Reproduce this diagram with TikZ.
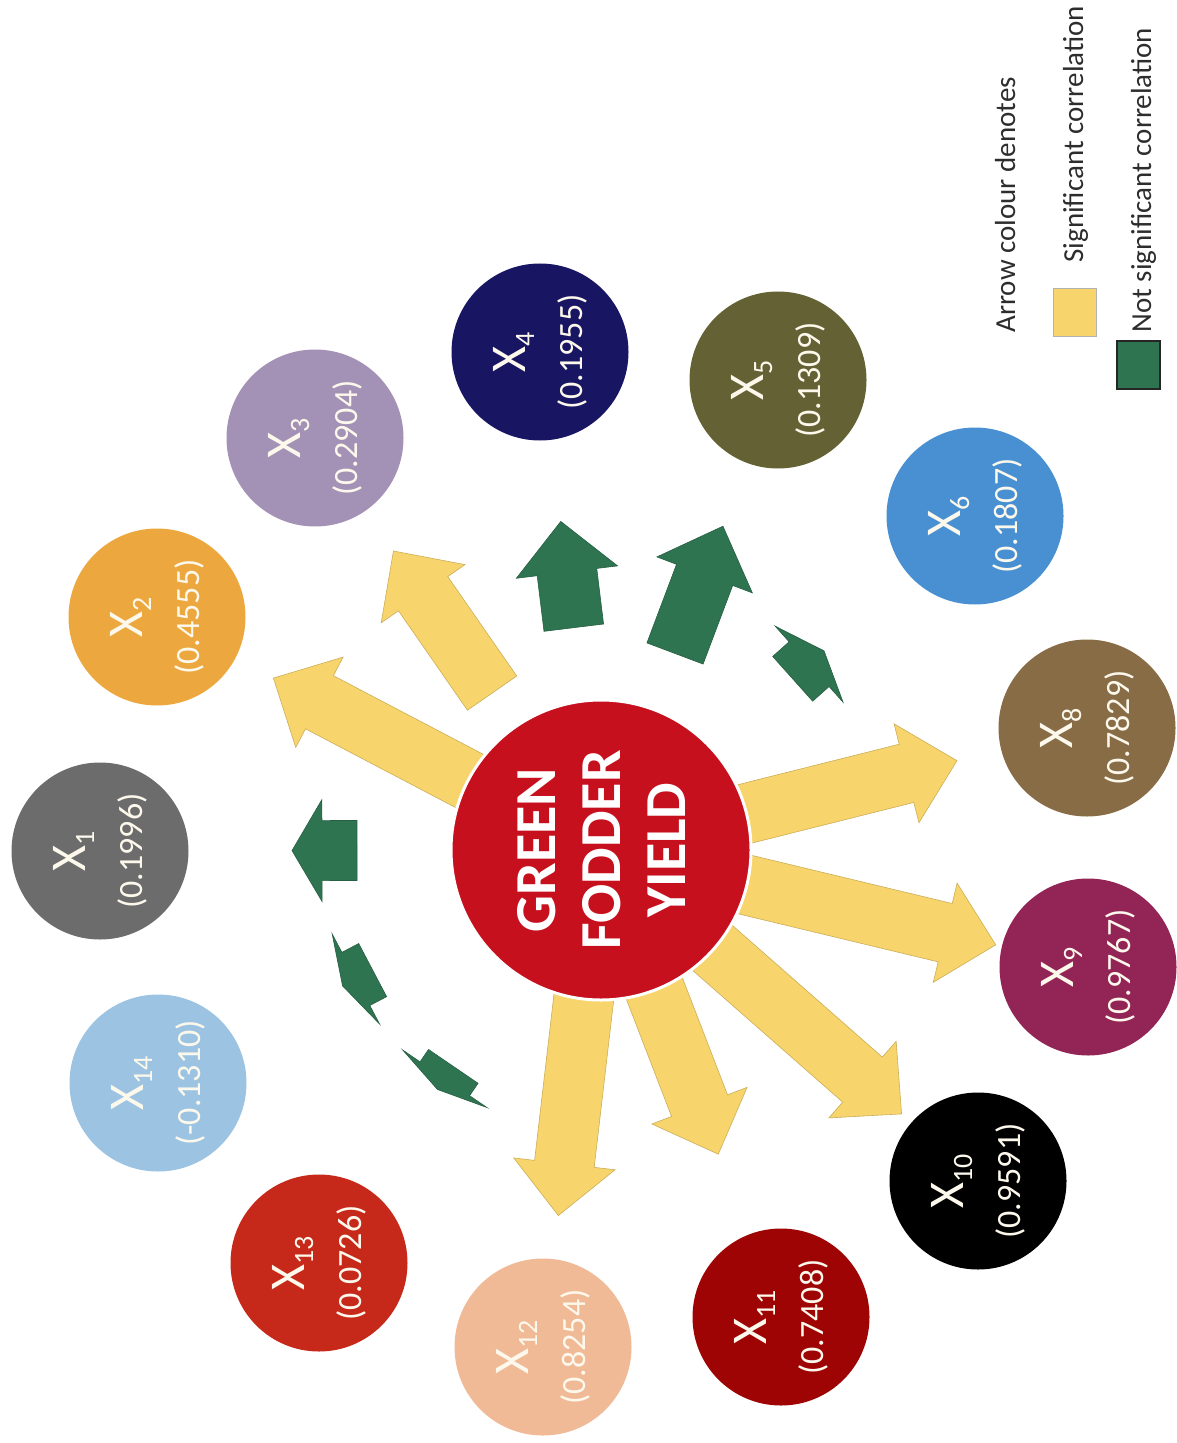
\documentclass[tikz,border=0pt]{standalone}
\usepackage{fontspec}
\setmainfont{Carlito}
\usetikzlibrary{backgrounds}

\definecolor{sigyellow}{RGB}{247,212,108}
\definecolor{nsgreen}{RGB}{46,116,80}
\definecolor{gfyred}{RGB}{198,16,30}
\definecolor{labwhite}{RGB}{252,248,236}
\definecolor{legtext}{RGB}{45,45,45}
\definecolor{fgray}{RGB}{108,108,108}
\definecolor{forange}{RGB}{236,168,62}
\definecolor{flilac}{RGB}{164,146,182}
\definecolor{fnavy}{RGB}{24,22,98}
\definecolor{folive}{RGB}{100,98,52}
\definecolor{fblue}{RGB}{72,144,210}
\definecolor{fbrown}{RGB}{136,108,70}
\definecolor{fplum}{RGB}{146,36,86}
\definecolor{fdarkred}{RGB}{158,4,4}
\definecolor{fpeach}{RGB}{240,186,150}
\definecolor{fred}{RGB}{198,40,26}
\definecolor{fsky}{RGB}{156,196,226}

\newcommand{\xsub}[1]{\raisebox{-4.5pt}{\fontsize{14}{14}\selectfont #1}}

\tikzset{
  factor/.style={circle, minimum size=88.5pt, inner sep=0pt, text=labwhite,
    align=center, rotate=90, font=\fontsize{17}{28.5}\selectfont},
  arrowbody/.style={fill=#1, draw=#1!82!black, line width=0.3pt},
  legendtext/.style={rotate=90, anchor=base west, inner sep=0pt, text=legtext,
    font=\fontsize{14.5}{17}\selectfont},
  keybox/.style={minimum width=21.5pt, minimum height=24pt, inner sep=0pt}
}

\begin{document}
\begin{tikzpicture}[x=0.5pt, y=-0.5pt]
    \useasboundingbox (0,0) rectangle (1176,1443);

    % centre
    \node[circle, fill=gfyred, draw=white, line width=1.5pt, minimum size=150pt,
      inner sep=0pt, text=white, align=center, rotate=90,
      font=\bfseries\fontsize{29}{32.5}\selectfont] (gfy) at (601,850) {GREEN\\FODDER\\YIELD};

    % characters round it
    \foreach \n/\px/\py/\col/\val in {1/100/851/fgray/0.1996, 2/157/617/forange/0.4555,
        3/315/438/flilac/0.2904, 4/540/352/fnavy/0.1955, 5/778/380/folive/0.1309,
        6/975/516/fblue/0.1807, 8/1087/728/fbrown/0.7829, 9/1088/967/fplum/0.9767,
        10/978/1181/black/0.9591, 11/781/1317/fdarkred/0.7408, 12/543/1347/fpeach/0.8254,
        13/319/1263/fred/0.0726, 14/158/1083/fsky/-0.1310}
        \node[factor, fill=\col] (x\n) at (\px,\py) {{\fontsize{25}{28.5}\selectfont X\xsub{\n}}\\(\val)};

    % arrows: tail, head base, tip (distance from centre)
    \begin{pgfonlayer}{background}
    \foreach \n/\tl/\hb/\tp/\col in {1/244/279/309/nsgreen, 2/140/318/370/sigyellow,
        3/191/312/364/sigyellow, 4/224/280/331/nsgreen, 5/210/294/346/nsgreen,
        6/257/279/299/nsgreen, 8/140/315/367/sigyellow, 9/140/354/406/sigyellow,
        10/140/348/400/sigyellow, 11/140/274/326/sigyellow, 12/140/316/368/sigyellow,
        13/262/277/290/nsgreen, 14/258/277/292/nsgreen}{
        \pgfmathanglebetweenpoints{\pgfpointanchor{gfy}{center}}{\pgfpointanchor{x\n}{center}}
        \let\ang\pgfmathresult
        \path[arrowbody=\col, shift={(gfy.center)}, rotate=\ang]
            (\tl,-30) -- (\hb,-30) -- (\hb,-51) -- (\tp,0) -- (\hb,51) -- (\hb,30) -- (\tl,30) -- cycle;
    }
    \end{pgfonlayer}

    % legend
    \node[legendtext] (legtitle) at (1015,333) {Arrow colour denotes};
    \node[keybox, fill=sigyellow, draw=gray!60, line width=0.5pt] (keysig) at (1075,313) {};
    \node[legendtext] (labsig) at (1083,263) {Significant correlation};
    \node[keybox, fill=nsgreen, draw=black!85, line width=1pt] (keyns) at (1138,365) {};
    \node[legendtext] (labns) at (1151,333) {Not significant correlation};
\end{tikzpicture}
\end{document}
